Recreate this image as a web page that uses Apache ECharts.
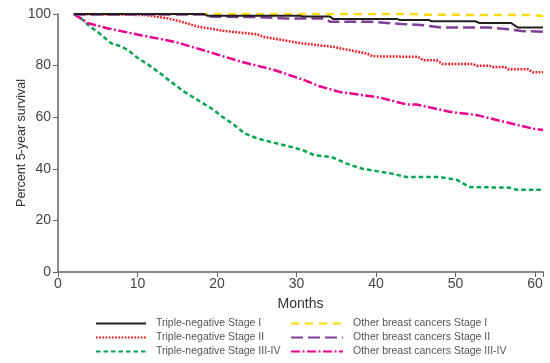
<!DOCTYPE html>
<html>
<head>
<meta charset="utf-8">
<script src="https://cdn.jsdelivr.net/npm/echarts@6/dist/echarts.min.js"></script>
<style>
  html, body { margin: 0; padding: 0; background: #ffffff; }
  #chart { width: 550px; height: 363px; }
</style>
</head>
<body>
<div id="chart"></div>
<script>
// Kaplan-Meier style survival curves: months since diagnosis vs percent surviving
const tnStage1Months = [2, 18.4, 18.8, 30.4, 30.8, 34.2, 34.6, 42.6, 43, 46.6, 47, 52.5, 53, 57, 57.8, 61];
const tnStage1Pct    = [100, 100, 99.3, 99.3, 99.0, 99.0, 98.1, 98.1, 97.7, 97.7, 97.2, 97.2, 96.5, 96.5, 94.8, 94.8];

const tnStage2Months = [2, 11, 13.8, 15.5, 17.6, 21, 25.1, 26, 28, 30.8, 33, 34.6, 35.5, 37.5, 38.8, 39.6, 45.3, 45.9, 47.6, 48.4, 52.2, 52.7, 54.3, 54.6, 56.2, 56.6, 59.1, 59.7, 61];
const tnStage2Pct    = [100, 99.6, 98.3, 97.0, 95.1, 93.4, 92.1, 91.0, 90.0, 88.6, 87.8, 87.3, 86.7, 85.5, 84.7, 83.6, 83.4, 82.1, 82.1, 80.6, 80.6, 79.9, 79.9, 79.5, 79.5, 78.6, 78.6, 77.4, 77.4];

const tnStage34Months = [2, 2.9, 3.8, 5.2, 6.7, 7.8, 8.8, 10.1, 11.1, 12.6, 14.2, 15.9, 17.6, 19.3, 20.7, 22.2, 23.5, 25.1, 26.8, 29.3, 30.8, 32.3, 34.4, 36.3, 38.2, 40.1, 42.1, 43.8, 48.0, 50.1, 51.8, 56.8, 57.7, 61];
const tnStage34Pct    = [100, 98.3, 95.7, 92.5, 88.6, 87.6, 86.0, 82.8, 80.9, 77.6, 73.7, 69.8, 66.6, 63.4, 60.1, 56.9, 53.7, 51.7, 50.4, 48.5, 47.2, 45.2, 44.6, 42.0, 40.1, 39.1, 38.1, 36.8, 36.8, 35.8, 32.9, 32.7, 31.9, 31.9];

const otherStage1Months = [2, 45, 46, 59, 61];
const otherStage1Pct    = [100, 100, 99.7, 99.6, 99.2];

const otherStage2Months = [2, 18.3, 18.8, 25, 28.5, 33.6, 34.2, 39.4, 43.2, 45.7, 48.2, 54.1, 56.6, 58.3, 61];
const otherStage2Pct    = [99.8, 99.8, 99.0, 98.8, 98.3, 98.3, 97.0, 97.0, 96.1, 95.7, 94.8, 94.8, 94.1, 93.4, 93.1];

const otherStage34Months = [2, 3.8, 6.3, 10.4, 14.7, 18.9, 23, 27.2, 30.8, 32.9, 35.4, 40.5, 42.6, 43.9, 45.1, 49.3, 52.7, 55.6, 59.7, 61];
const otherStage34Pct    = [100, 96.4, 94.4, 91.8, 89.2, 85.4, 81.5, 78.3, 74.6, 72.0, 69.8, 67.6, 65.9, 64.9, 64.9, 62.1, 60.8, 58.6, 55.6, 55.0];

const seriesNames = [
  'Triple-negative Stage I',
  'Triple-negative Stage II',
  'Triple-negative Stage III-IV',
  'Other breast cancers Stage I',
  'Other breast cancers Stage II',
  'Other breast cancers Stage III-IV'
];

const xTicks = [0, 10, 20, 30, 40, 50, 60];
const yTicks = [0, 20, 40, 60, 80, 100];

const zip = (xs, ys) => xs.map((x, i) => [x, ys[i]]);

const axisColor = '#666666';
const labelColor = '#444444';
const baseFont = "'Liberation Sans', Arial, sans-serif";

function curve(name, xs, ys, color, width, dash, z) {
  return {
    name: name,
    type: 'line',
    data: zip(xs, ys),
    symbol: 'none',
    smooth: false,
    z: z,
    lineStyle: { color: color, width: width, type: dash, cap: 'butt' },
    itemStyle: { color: color },
    emphasis: { disabled: true },
    animation: false
  };
}

const chart = echarts.init(document.getElementById('chart'), null, { renderer: 'canvas' });

const legendText = { fontFamily: baseFont, fontSize: 10.5, color: '#555555', padding: [0, 0, 0, 5] };
const legendCommon = {
  orient: 'vertical',
  top: 318,
  height: 45,
  padding: 0,
  itemHeight: 10,
  itemGap: 3,
  textStyle: legendText,
  itemStyle: { opacity: 0 },
  selectedMode: false
};

chart.setOption({
  backgroundColor: '#ffffff',
  animation: false,
  grid: { left: 58, right: 7, top: 14, bottom: 91, containLabel: false },
  legend: [
    Object.assign({}, legendCommon, { data: seriesNames.slice(0, 3), left: 95, itemWidth: 50 }),
    Object.assign({}, legendCommon, { data: seriesNames.slice(3), left: 290, itemWidth: 52 })
  ],
  xAxis: {
    type: 'value',
    min: 0, max: 61, interval: 10,
    name: 'Months',
    nameLocation: 'middle',
    nameGap: 25,
    nameMoveOverlap: false,
    nameTextStyle: { fontFamily: baseFont, fontSize: 14, color: '#333333' },
    axisLine: { show: true, lineStyle: { color: axisColor, width: 1.5 } },
    axisTick: { show: true, length: 5, lineStyle: { color: axisColor, width: 1 } },
    axisLabel: {
      fontFamily: baseFont, fontSize: 14, color: labelColor, margin: 5,
      formatter: v => (xTicks.includes(v) ? String(v) : '')
    },
    splitLine: { show: false }
  },
  yAxis: {
    type: 'value',
    min: 0, max: 100, interval: 20,
    name: 'Percent 5-year survival',
    nameLocation: 'middle',
    nameGap: 30,
    nameMoveOverlap: false,
    nameTextStyle: { fontFamily: baseFont, fontSize: 12.5, color: '#333333' },
    axisLine: { show: true, lineStyle: { color: axisColor, width: 1.5 } },
    axisTick: { show: true, length: 5, lineStyle: { color: axisColor, width: 1 } },
    axisLabel: {
      fontFamily: baseFont, fontSize: 14, color: labelColor, margin: 7,
      formatter: v => (yTicks.includes(v) ? String(v) : '')
    },
    splitLine: { show: false }
  },
  series: [
    curve(seriesNames[0], tnStage1Months, tnStage1Pct, '#231f20', 2, 'solid', 6),
    curve(seriesNames[1], tnStage2Months, tnStage2Pct, '#ed1c24', 2.5, [1.8, 1.4], 3),
    curve(seriesNames[2], tnStage34Months, tnStage34Pct, '#00a651', 2.5, [4.5, 3], 3),
    curve(seriesNames[3], otherStage1Months, otherStage1Pct, '#fcd900', 2.5, [8, 6], 4),
    curve(seriesNames[4], otherStage2Months, otherStage2Pct, '#7f3f98', 2.5, [12, 5], 5),
    curve(seriesNames[5], otherStage34Months, otherStage34Pct, '#ec008c', 2.5, [9, 2.5, 2, 2.5], 3)
  ]
});
</script>
</body>
</html>
